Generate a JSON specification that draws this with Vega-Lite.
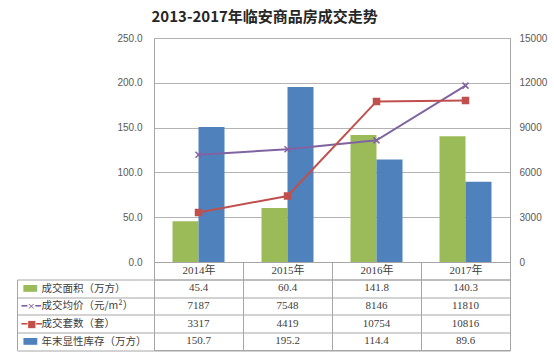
{
  "$schema": "https://vega.github.io/schema/vega-lite/v6.json",
  "padding": {"left": 16, "top": 9, "right": 5, "bottom": 5},
  "background": "white",
  "title": {"text": "2013-2017年临安商品房成交走势", "font": "Noto Sans CJK SC", "fontSize": 15, "fontWeight": "bold", "color": "#262626", "anchor": "middle", "offset": 8, "dx": -17},
  "datasets": {
    "d": [
      {"year": "2014年", "series": "成交面积（万方）", "value": 45.4},
      {"year": "2014年", "series": "成交均价（元/m²）", "value": 7187},
      {"year": "2014年", "series": "成交套数（套）", "value": 3317},
      {"year": "2014年", "series": "年末显性库存（万方）", "value": 150.7},
      {"year": "2015年", "series": "成交面积（万方）", "value": 60.4},
      {"year": "2015年", "series": "成交均价（元/m²）", "value": 7548},
      {"year": "2015年", "series": "成交套数（套）", "value": 4419},
      {"year": "2015年", "series": "年末显性库存（万方）", "value": 195.2},
      {"year": "2016年", "series": "成交面积（万方）", "value": 141.8},
      {"year": "2016年", "series": "成交均价（元/m²）", "value": 8146},
      {"year": "2016年", "series": "成交套数（套）", "value": 10754},
      {"year": "2016年", "series": "年末显性库存（万方）", "value": 114.4},
      {"year": "2017年", "series": "成交面积（万方）", "value": 140.3},
      {"year": "2017年", "series": "成交均价（元/m²）", "value": 11810},
      {"year": "2017年", "series": "成交套数（套）", "value": 10816},
      {"year": "2017年", "series": "年末显性库存（万方）", "value": 89.6}
    ]
  },
  "data": {"name": "d"},
  "bounds": "flush",
  "spacing": 17.5,
  "vconcat": [
    {
      "width": 356,
      "height": 224,
      "layer": [
        {
          "transform": [{"filter": {"field": "series", "oneOf": ["成交面积（万方）", "年末显性库存（万方）"]}}],
          "mark": {"type": "bar"},
          "encoding": {
            "x": {"field": "year", "type": "nominal", "sort": null, "scale": {"paddingInner": 0, "paddingOuter": 0},
              "axis": {"title": null, "labelAngle": 0, "tickBand": "extent", "tickSize": 17.5, "tickColor": "#a6a6a6", "domainColor": "#a6a6a6", "labelPadding": -8.75, "labelBaseline": "middle", "labelFont": "Liberation Serif, Noto Sans CJK SC", "labelFontSize": 11, "labelColor": "#404040", "grid": false}},
            "xOffset": {"field": "series", "type": "nominal", "scale": {"domain": ["成交面积（万方）", "年末显性库存（万方）"], "paddingInner": 0, "paddingOuter": 0.7115}},
            "y": {"field": "value", "type": "quantitative", "scale": {"domain": [0, 250], "nice": false},
              "axis": {"title": null, "values": [0, 50, 100, 150, 200, 250], "format": ".1f", "grid": true, "gridColor": "#b3b3b3", "ticks": false, "labelPadding": 12, "domainColor": "#a6a6a6", "labelFont": "Liberation Sans", "labelFontSize": 10, "labelColor": "#595959"}},
            "color": {"field": "series", "type": "nominal", "scale": {"domain": ["成交面积（万方）", "成交均价（元/m²）", "成交套数（套）", "年末显性库存（万方）"], "range": ["#9bbb59", "#8064a2", "#c0504d", "#4f81bd"]}, "legend": null}
          }
        },
        {
          "transform": [{"filter": {"field": "series", "oneOf": ["成交均价（元/m²）", "成交套数（套）"]}}],
          "encoding": {
            "x": {"field": "year", "type": "nominal", "sort": null},
            "y": {"field": "value", "type": "quantitative", "scale": {"domain": [0, 15000], "nice": false},
              "axis": {"orient": "right", "title": null, "values": [0, 3000, 6000, 9000, 12000, 15000], "format": "d", "grid": false, "ticks": false, "labelPadding": 9, "domainColor": "#a6a6a6", "labelFont": "Liberation Sans", "labelFontSize": 10, "labelColor": "#595959"}},
            "color": {"field": "series", "type": "nominal", "scale": {"domain": ["成交面积（万方）", "成交均价（元/m²）", "成交套数（套）", "年末显性库存（万方）"], "range": ["#9bbb59", "#8064a2", "#c0504d", "#4f81bd"]}, "legend": null}
          },
          "layer": [
            {"mark": {"type": "line", "strokeWidth": 2}},
            {"mark": {"type": "point", "filled": true, "opacity": 1, "size": 36, "strokeWidth": 1.5},
              "encoding": {
                "shape": {"field": "series", "type": "nominal", "scale": {"domain": ["成交均价（元/m²）", "成交套数（套）"], "range": ["M-1,-1L1,1M1,-1L-1,1", "square"]}, "legend": null},
                "stroke": {"field": "series", "type": "nominal", "scale": {"domain": ["成交均价（元/m²）", "成交套数（套）"], "range": ["#8064a2", "#c0504d"]}, "legend": null}
              }}
          ]
        }
      ],
      "resolve": {"scale": {"y": "independent"}}
    },
    {
      "width": 356,
      "height": 70.5,
      "layer": [
        {
          "mark": {"type": "text", "font": "Liberation Serif, Noto Sans CJK SC", "fontSize": 11, "color": "#404040"},
          "encoding": {
            "x": {"field": "year", "type": "nominal", "sort": null, "scale": {"paddingInner": 0, "paddingOuter": 0},
              "axis": {"title": null, "labels": false, "ticks": false, "domain": false, "grid": true, "tickBand": "extent", "gridColor": "#a6a6a6", "gridOpacity": 1}},
            "y": {"field": "series", "type": "nominal", "scale": {"domain": ["成交面积（万方）", "成交均价（元/m²）", "成交套数（套）", "年末显性库存（万方）"], "paddingInner": 0, "paddingOuter": 0},
              "axis": {"title": null, "tickBand": "extent", "tickSize": 137, "tickColor": "#a6a6a6", "grid": true, "gridColor": "#a6a6a6", "gridOpacity": 1, "domainColor": "#a6a6a6", "labelAlign": "left", "labelPadding": -24, "labelFont": "Noto Sans CJK SC", "labelFontSize": 10.5, "labelColor": "#404040", "labelLimit": 0}},
            "text": {"field": "value", "type": "nominal"}
          }
        },
        {
          "mark": {"type": "tick", "opacity": 0},
          "encoding": {
            "y": {"field": "series", "type": "nominal", "scale": {"domain": ["成交面积（万方）", "成交均价（元/m²）", "成交套数（套）", "年末显性库存（万方）"], "paddingInner": 0, "paddingOuter": 0},
              "axis": {"orient": "left", "offset": 137, "title": null, "ticks": false, "grid": false, "domainColor": "#a6a6a6", "labelAlign": "left", "labelPadding": -4, "labelFont": "DejaVu Sans", "labelLimit": 0,
                "labelFontSize": {"expr": "datum.value == '成交均价（元/m²）' || datum.value == '成交套数（套）' ? 9.5 : 18"},
                "labelExpr": "datum.value == '成交均价（元/m²）' ? '━×━' : datum.value == '成交套数（套）' ? '━■━' : '▬'",
                "labelColor": {"expr": "datum.value == '成交面积（万方）' ? '#9bbb59' : datum.value == '成交均价（元/m²）' ? '#8064a2' : datum.value == '成交套数（套）' ? '#c0504d' : '#4f81bd'"}}}
          }
        }
      ],
      "resolve": {"scale": {"y": "independent"}, "axis": {"y": "independent"}}
    }
  ],
  "config": {
    "view": {"stroke": "#a6a6a6"}
  }
}
